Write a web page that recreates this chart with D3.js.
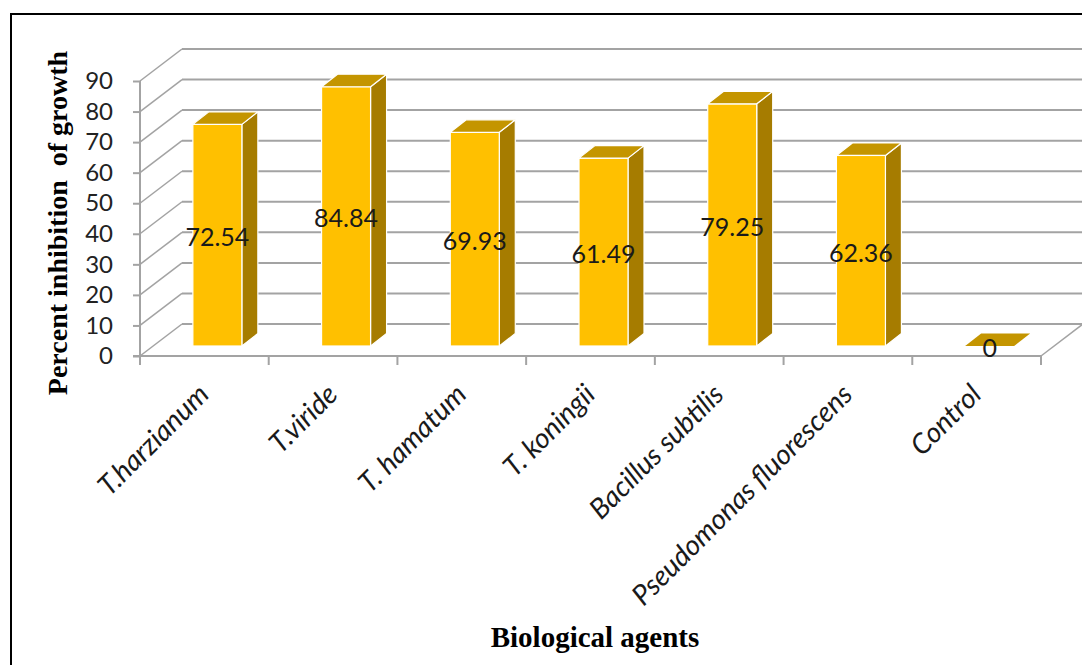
<!DOCTYPE html>
<html>
<head>
<meta charset="utf-8">
<script src="https://cdn.jsdelivr.net/npm/d3@7"></script>
<style>
  html, body { margin: 0; padding: 0; background: #fff; }
  svg { display: block; }
</style>
</head>
<body>
<svg id="chart" width="1082" height="665"></svg>
<script>
const categories = ["T.harzianum", "T.viride", "T. hamatum", "T. koningii", "Bacillus subtilis", "Pseudomonas fluorescens", "Control"];
const values = [72.54, 84.84, 69.93, 61.49, 79.25, 62.36, 0];
const valueLabels = ["72.54", "84.84", "69.93", "61.49", "79.25", "62.36", "0"];
const yTicks = [0, 10, 20, 30, 40, 50, 60, 70, 80, 90];
const yTitle = "Percent inhibition\u00a0\u00a0of growth";
const xTitle = "Biological agents";

const svg = d3.select("#chart");

// frame
svg.append("rect").attr("x", 11).attr("y", 14).attr("width", 1100).attr("height", 700)
  .attr("fill", "#fff").attr("stroke", "#000").attr("stroke-width", 2);

const x = d3.scaleBand().domain(categories).range([140, 1041]).padding(0);
const y = d3.scaleLinear().domain([0, 90]).range([356, 81]);
const depth = { dx: 42, dy: -32 };       // full depth of the 3D box
const barOff = { dx: 13, dy: -10 };      // front of bars
const barDepth = { dx: 16, dy: -12.5 };  // depth of each bar
const barW = 49;

const gridColor = "#a3a3a3";
const g = svg.append("g");

// back wall gridlines + left wall diagonals
yTicks.forEach(t => {
  const yf = y(t);
  g.append("line")
    .attr("x1", x.range()[0] + depth.dx).attr("x2", x.range()[1] + depth.dx)
    .attr("y1", yf + depth.dy).attr("y2", yf + depth.dy)
    .attr("stroke", gridColor).attr("stroke-width", 2);
  g.append("line")
    .attr("x1", x.range()[0]).attr("y1", yf)
    .attr("x2", x.range()[0] + depth.dx).attr("y2", yf + depth.dy)
    .attr("stroke", gridColor).attr("stroke-width", 1.5);
});
// floor front edge and right diagonal
g.append("line").attr("x1", x.range()[0]).attr("x2", x.range()[1])
  .attr("y1", y(0)).attr("y2", y(0)).attr("stroke", gridColor).attr("stroke-width", 2);
g.append("line").attr("x1", x.range()[1]).attr("y1", y(0))
  .attr("x2", x.range()[1] + depth.dx).attr("y2", y(0) + depth.dy)
  .attr("stroke", gridColor).attr("stroke-width", 1.5);

// y axis (front)
const yAxis = d3.axisLeft(y).tickValues(yTicks).tickSize(7).tickPadding(20).tickFormat(d3.format("d"));
const ya = svg.append("g").attr("transform", `translate(${x.range()[0]},0)`).call(yAxis);
ya.select(".domain").attr("stroke", gridColor).attr("stroke-width", 2).attr("d", `M-7,${y(0)}H0V${y(90)}`);
ya.selectAll(".tick line").attr("stroke", gridColor).attr("stroke-width", 2);
ya.selectAll(".tick text").attr("font-family", "Lato, 'Open Sans', sans-serif")
  .attr("font-size", 24).attr("fill", "#222");

// x boundary ticks
const bounds = categories.map(c => x(c)).concat([x.range()[1]]);
svg.append("g").selectAll("line").data(bounds).join("line")
  .attr("x1", d => d).attr("x2", d => d).attr("y1", y(0)).attr("y2", y(0) + 9)
  .attr("stroke", gridColor).attr("stroke-width", 2);

// bars
const bars = svg.append("g").selectAll("g").data(categories.map((c, i) => ({ c, v: values[i], label: valueLabels[i] }))).join("g");
bars.each(function(d) {
  const sel = d3.select(this);
  const cx = x(d.c) + x.bandwidth() / 2 + barOff.dx;
  const x0 = cx - barW / 2, x1 = cx + barW / 2;
  const yb = y(0) + barOff.dy;
  const yt = y(d.v) + barOff.dy;
  const bx = barDepth.dx, by = barDepth.dy;
  if (d.v > 0) {
    sel.append("path")
      .attr("d", `M${x1},${yt}L${x1 + bx},${yt + by}L${x1 + bx},${yb + by}L${x1},${yb}Z`)
      .attr("fill", "#a67c00").attr("stroke", "#fff").attr("stroke-width", 1.2).attr("stroke-linejoin", "round");
    sel.append("rect").attr("x", x0).attr("y", yt).attr("width", barW).attr("height", yb - yt)
      .attr("fill", "#ffc000").attr("stroke", "#fff").attr("stroke-width", 1.2);
  }
  sel.append("path")
    .attr("d", `M${x0},${yt}L${x0 + bx},${yt + by}L${x1 + bx},${yt + by}L${x1},${yt}Z`)
    .attr("fill", "#c49500").attr("stroke", d.v > 0 ? "#fff" : "none").attr("stroke-width", 1.2).attr("stroke-linejoin", "round");
  sel.append("text")
    .attr("x", cx).attr("y", (yt + yb) / 2 + 1)
    .attr("text-anchor", "middle").attr("dominant-baseline", "central")
    .attr("font-family", "Lato, 'Open Sans', sans-serif").attr("font-size", 25).attr("fill", "#1a1a1a")
    .text(d.label);
});

// x category labels
svg.append("g").selectAll("text").data(categories).join("text")
  .attr("transform", d => `translate(${x(d) + x.bandwidth() / 2 - 8},382) rotate(-45)`)
  .attr("text-anchor", "end").attr("dy", "0.72em")
  .attr("font-family", "Lato, 'Open Sans', sans-serif").attr("font-style", "italic")
  .attr("font-size", 28).attr("fill", "#1a1a1a")
  .text(d => d);

// axis titles
svg.append("text").attr("x", 595).attr("y", 647).attr("text-anchor", "middle")
  .attr("font-family", "'Liberation Serif', 'Times New Roman', serif").attr("font-weight", "bold")
  .attr("font-size", 29).attr("fill", "#000").text(xTitle);
svg.append("text").attr("transform", "translate(67,223) rotate(-90)").attr("text-anchor", "middle")
  .attr("font-family", "'Liberation Serif', 'Times New Roman', serif").attr("font-weight", "bold")
  .attr("font-size", 28).attr("fill", "#000").text(yTitle);
</script>
</body>
</html>
